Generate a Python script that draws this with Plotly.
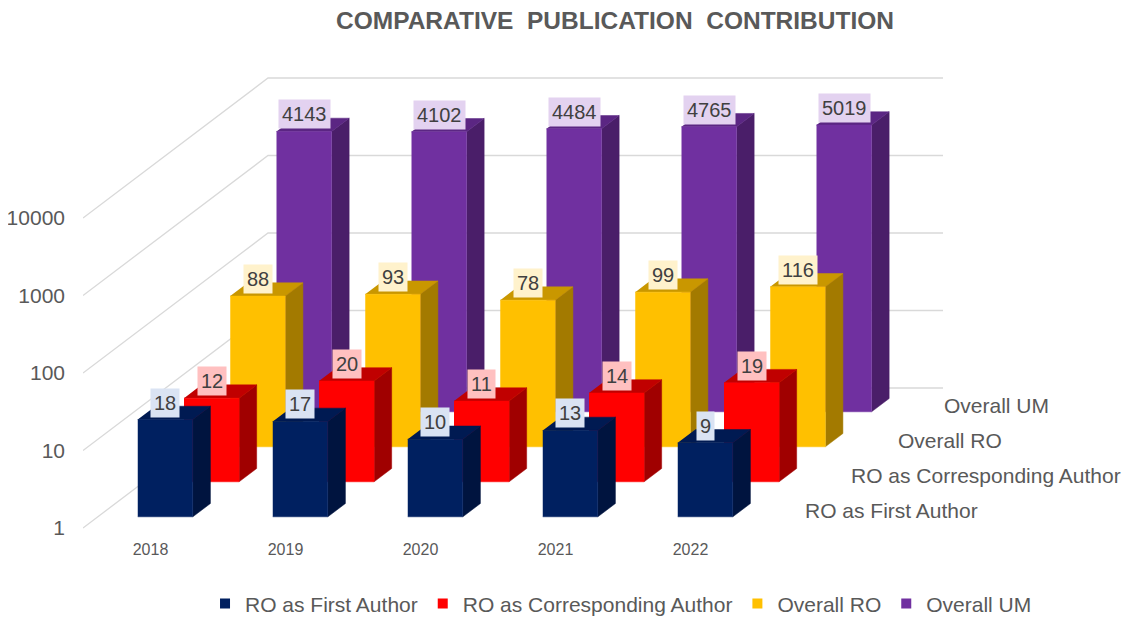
import math
import plotly.graph_objects as go

years = ["2018", "2019", "2020", "2021", "2022"]
series_names = ["RO as First Author", "RO as Corresponding Author", "Overall RO", "Overall UM"]
first_author = [18, 17, 10, 13, 9]
corresponding_author = [12, 20, 11, 14, 19]
overall_ro = [88, 93, 78, 99, 116]
overall_um = [4143, 4102, 4484, 4765, 5019]
y_ticks = [1, 10, 100, 1000, 10000]

series_values = [first_author, corresponding_author, overall_ro, overall_um]
front_colors = ["#002060", "#FF0000", "#FFC000", "#7030A0"]
top_colors = ["#001A52", "#C00000", "#C99700", "#5B2683"]
side_colors = ["#00143F", "#A00000", "#A37A00", "#4A1E69"]
label_bg = ["#DAE3F3", "#FFC0C0", "#FFF2CC", "#E3D2F0"]

GREY = "#595959"
FONT = "Liberation Sans, Arial, sans-serif"

# fake 3-D: one depth slot moves a point right by SX categories and up by SY decades
SX, SY = 0.3426, 0.4516
N_SLOTS = 4
HALF_W = 0.204
D_FRONT, D_BACK = 0.32, 0.70
X_MIN, X_MAX = -0.5, len(years) - 0.5

# the page body keeps its default 8px margin, so the figure is drawn 8px smaller
W, H = 1127, 609


def proj(c, v, d):
    """category / value / depth (in slots) -> plot coords"""
    return c + d * SX, v * 10 ** (d * SY)


def polys(pts_list):
    xs, ys = [], []
    for pts in pts_list:
        for c, v, d in pts:
            x, y = proj(c, v, d)
            xs.append(x)
            ys.append(y)
        xs.append(None)
        ys.append(None)
    return xs, ys


fig = go.Figure()

# wall gridlines: diagonal on the left wall, then flat along the back wall
gx, gy = [], []
for t in y_ticks:
    for c, d in [(X_MIN, 0), (X_MIN, N_SLOTS), (X_MAX, N_SLOTS)]:
        x, y = proj(c, t, d)
        gx.append(x)
        gy.append(y)
    gx.append(None)
    gy.append(None)
fig.add_trace(go.Scatter(x=gx, y=gy, mode="lines", line=dict(color="#D9D9D9", width=1.3),
                         hoverinfo="skip", showlegend=False))

# bars, back row first
for k in reversed(range(len(series_values))):
    vals = series_values[k]
    df, db = k + D_FRONT, k + D_BACK
    fronts, sides, tops = [], [], []
    for i, v in enumerate(vals):
        l, r = i - HALF_W, i + HALF_W
        fronts.append([(l, 1, df), (r, 1, df), (r, v, df), (l, v, df)])
        sides.append([(r, 1, df), (r, 1, db), (r, v, db), (r, v, df)])
        tops.append([(l, v, df), (r, v, df), (r, v, db), (l, v, db)])
    for faces, col in [(sides, side_colors[k]), (tops, top_colors[k]), (fronts, front_colors[k])]:
        xs, ys = polys(faces)
        fig.add_trace(go.Scatter(x=xs, y=ys, mode="lines", fill="toself", fillcolor=col,
                                 line=dict(color=col, width=0.5), hoverinfo="skip",
                                 showlegend=False))

# legend entries
for k, name in enumerate(series_names):
    fig.add_trace(go.Scatter(x=[None], y=[None], mode="markers", name=name,
                             marker=dict(symbol="square", size=10, color=front_colors[k])))

# value labels (annotation y on a log axis is given in log10 units)
for k, vals in enumerate(series_values):
    for i, v in enumerate(vals):
        x, y = proj(i, v, k + D_FRONT)
        fig.add_annotation(x=x, y=math.log10(y), text=str(v), showarrow=False,
                           yanchor="bottom", yshift=2, bgcolor=label_bg[k], borderpad=3,
                           font=dict(size=20, color="#404040", family=FONT))

# depth-axis labels on the floor's right edge
for k, name in enumerate(series_names):
    x, y = proj(X_MAX, 1, k + 0.5)
    fig.add_annotation(x=x, y=math.log10(y), text=name, showarrow=False, xanchor="left",
                       xshift=22, font=dict(size=21, color=GREY, family=FONT))

fig.update_layout(
    width=W, height=H, autosize=False,
    margin=dict(l=75, r=192, t=62, b=82, autoexpand=False),
    paper_bgcolor="white", plot_bgcolor="white",
    font=dict(family=FONT, color=GREY),
    title=dict(text="<b>COMPARATIVE  PUBLICATION  CONTRIBUTION</b>", x=607 / W, xanchor="center",
               xref="container", y=1, yanchor="top", yref="container",
               pad=dict(t=4, b=0),
               font=dict(size=24.5, color=GREY, family=FONT)),
    legend=dict(orientation="h", x=0.6256, xanchor="center", y=-0.148, yanchor="middle",
                font=dict(size=21, color=GREY), traceorder="normal"),
)
fig.update_xaxes(range=[X_MIN, X_MAX + N_SLOTS * SX],
                 tickvals=list(range(len(years))), ticklabelstandoff=3,
                 ticktext=years, showgrid=False, zeroline=False, showline=False,
                 tickfont=dict(size=16, color=GREY))
fig.update_yaxes(type="log", range=[-0.0903, 5.9097], tickvals=y_ticks,
                 ticktext=[str(t) for t in y_ticks], showgrid=False, zeroline=False,
                 showline=False, ticklabelstandoff=17, tickfont=dict(size=21, color=GREY))

fig.write_html("out.html")
